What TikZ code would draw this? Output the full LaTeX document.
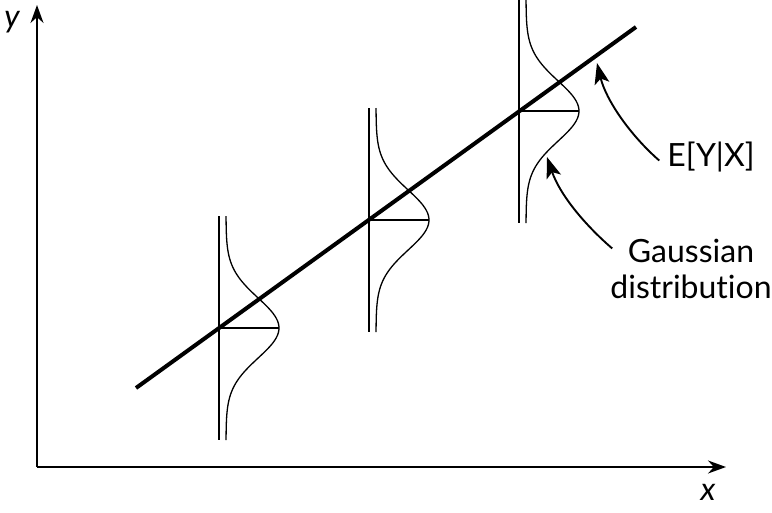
\documentclass[tikz,border=0pt]{standalone}
\usepackage{fontspec}
\setmainfont{Lato}[Ligatures=NoCommon]
\usetikzlibrary{arrows.meta}

\tikzset{
  axis/.style={line width=1.6pt,-{Stealth[length=18pt,width=13pt]}},
  pointer/.style={line width=1.9pt,-{Stealth[length=21pt,width=15pt,inset=5pt]}},
  bell/.style={line width=1.3pt},
  lbl/.style={font=\fontsize{32}{36}\selectfont,align=center,inner sep=0pt},
}

\begin{document}
\begin{tikzpicture}[x=1pt,y=-1pt]
      \useasboundingbox (0,0) rectangle (772,512);

      % axes
      \coordinate (origin) at (37,467);
      \coordinate (ytip) at (37,5);
      \coordinate (xtip) at (726,467);
      \draw[axis] (origin) -- (ytip);
      \draw[axis] (origin) -- (xtip);
      \node[lbl,font=\fontsize{32}{36}\selectfont\itshape] (ylabel) at (12,22) {y};
      \node[lbl,font=\fontsize{32}{36}\selectfont\itshape] (xlabel) at (708,492) {x};

      % regression line
      \coordinate (lstart) at (136,388);
      \coordinate (lend) at (636,27);
      \draw[line width=4pt] (lstart) -- (lend);

      % gaussians
      \begin{scope}[shift={(219,328)}]
        \draw[bell] (0,-112) -- (0,112);
        \draw[bell] plot[domain=-112:112,samples=80,smooth] ({7+53*exp(-(\x)^2/1800)},\x);
        \draw[bell] (0,0) -- (60,0);
      \end{scope}
      \begin{scope}[shift={(369,220)}]
        \draw[bell] (0,-112) -- (0,112);
        \draw[bell] plot[domain=-112:112,samples=80,smooth] ({7+53*exp(-(\x)^2/1800)},\x);
        \draw[bell] (0,0) -- (60,0);
      \end{scope}
      \begin{scope}[shift={(519,111)}]
        \draw[bell] (0,-112) -- (0,112);
        \draw[bell] plot[domain=-112:112,samples=80,smooth] ({7+53*exp(-(\x)^2/1800)},\x);
        \draw[bell] (0,0) -- (60,0);
      \end{scope}

      % labels and pointers
      \node[lbl,anchor=base] (eyx) at (711,166) {E[Y|X]};
      \node[lbl,anchor=base] (gauss) at (691,298) {Gaussian\\distribution};
      \coordinate (eyxtip) at (597,63);
      \coordinate (gausstip) at (547,157);
      \draw[pointer] ([xshift=-8pt,yshift=-4pt]eyx.west) .. controls (630,135) and (606,100) .. (eyxtip);
      \draw[pointer] ([xshift=2pt,yshift=-10pt]gauss.north west) .. controls (585,225) and (560,195) .. (gausstip);
\end{tikzpicture}
\end{document}
